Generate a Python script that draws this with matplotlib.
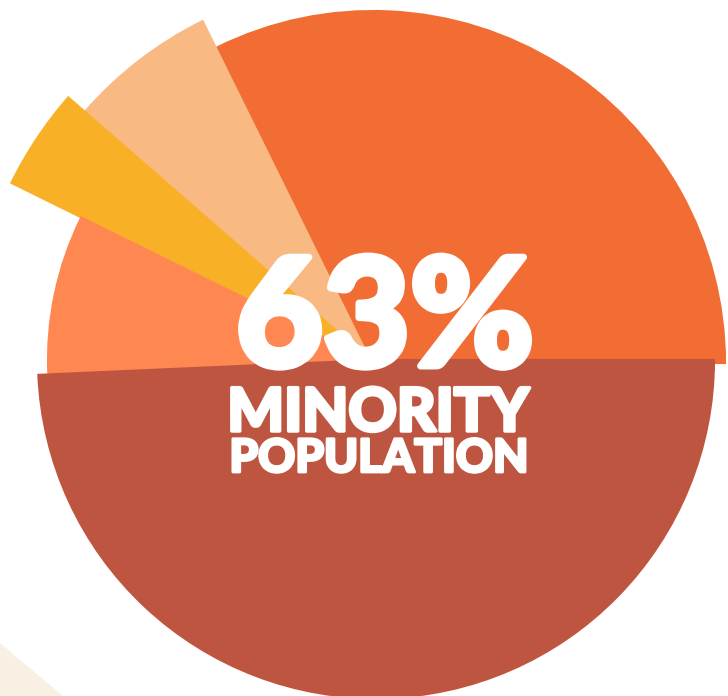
import matplotlib
matplotlib.use("Agg")
import matplotlib.pyplot as plt
import matplotlib.patheffects as pe
from matplotlib.patches import Wedge, Polygon
import numpy as np

# slice shares (percent), counter-clockwise from 3 o'clock
groups = ["Group A", "Group B", "Group C", "Group D", "Group E"]
shares = [32.3, 6.3, 4.1, 8.0, 49.3]
headline = "63%"
caption = ["MINORITY", "POPULATION"]

# styling (pixel units of the 728x696 canvas, y pointing up)
colors = ["#F26D33", "#F9B982", "#F8B026", "#FE8752", "#BE5540"]
radii = [352, 378, 400, 322, 338]
shifts = [(3, -3), (0, 0), (0, 0), (0, 0), (6, 0)]
W, H = 728, 696
cx, cy = 370, H - 360

fig = plt.figure(figsize=(W / 100, H / 100), dpi=100)
ax = fig.add_axes([0, 0, 1, 1])
ax.set_xlim(0, W)
ax.set_ylim(0, H)
ax.set_aspect("equal")
ax.axis("off")

# beige corner shape
ax.add_patch(Polygon([(0, 0), (0, 53), (63, 0)], closed=True,
                     facecolor="#F9F0E4", edgecolor="none"))

edges = np.concatenate([[0], np.cumsum(shares)]) / sum(shares) * 360
for i, name in enumerate(groups):
    dx, dy = shifts[i]
    ax.add_patch(Wedge((cx + dx, cy + dy), radii[i], edges[i], edges[i + 1],
                       facecolor=colors[i], edgecolor=colors[i], linewidth=1.5,
                       joinstyle="miter", label=name))

font = ["Lato", "DejaVu Sans"]
def bold(lw):
    return [pe.withStroke(linewidth=lw, foreground="white")]

ax.text(385, H - 366, headline, color="white", fontsize=108, family=font,
        fontweight="black", ha="center", va="baseline", path_effects=bold(5))
ax.text(378, H - 431, caption[0], color="white", fontsize=43, family=font,
        fontweight="black", ha="center", va="baseline", path_effects=bold(2.5))
ax.text(379, H - 472, caption[1], color="white", fontsize=33, family=font,
        fontweight="black", ha="center", va="baseline", path_effects=bold(2))

fig.savefig("out.png", dpi=100)
